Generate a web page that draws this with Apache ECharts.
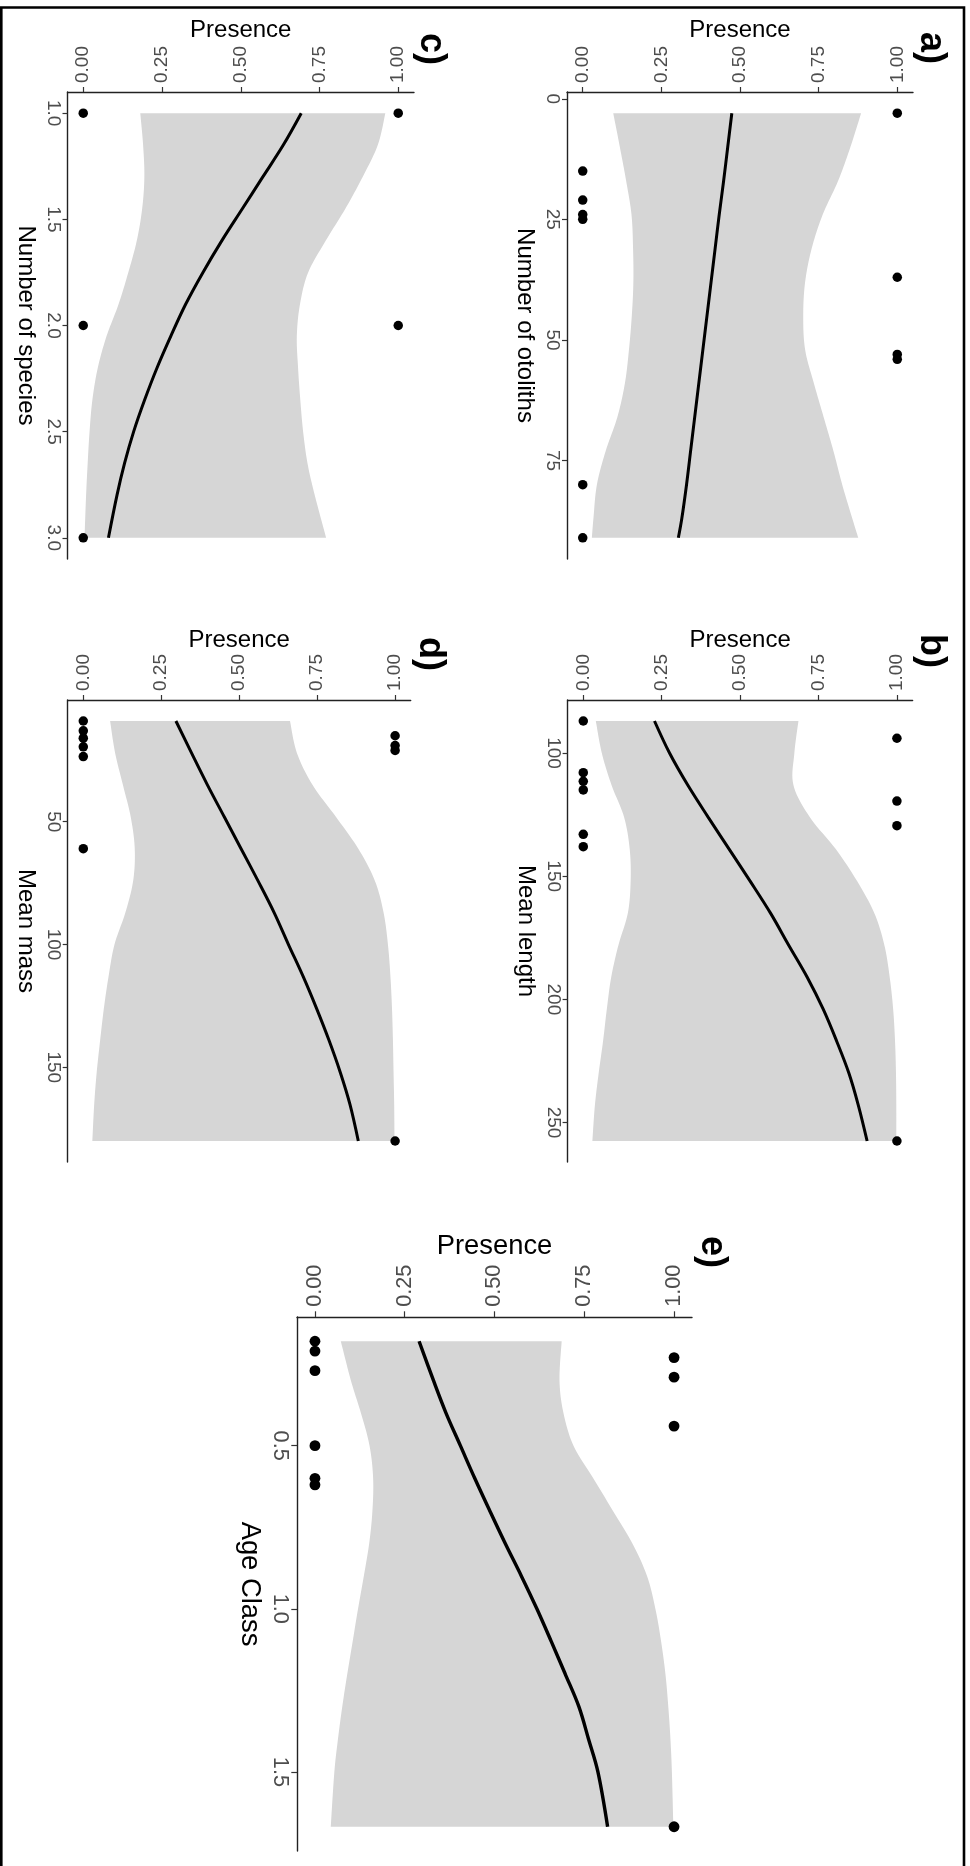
<!DOCTYPE html>
<html>
<head>
<meta charset="utf-8">
<title>Presence models</title>
<script src="https://cdn.jsdelivr.net/npm/echarts@6/dist/echarts.min.js"></script>
<style>
  html, body { margin: 0; padding: 0; background: #fff; }
  #chart { width: 970px; height: 1866px; }
</style>
</head>
<body>
<div id="chart"></div>
<script>
// presence axis (shared by all panels)
const presenceTicks = [0, 0.25, 0.5, 0.75, 1];

// a) Number of otoliths
const otolithX = [3, 15, 21, 24, 25, 37, 53, 54, 80, 91];
const otolithY = [1, 0, 0, 0, 0, 1, 1, 1, 0, 0];
const otolithTicks = [0, 25, 50, 75];
const otolithGrid = [3, 10, 17, 24, 31, 38, 45, 52, 59, 66, 73, 80, 87, 91];
const otolithFit = [0.474, 0.461, 0.448, 0.434, 0.421, 0.408, 0.395, 0.382, 0.369, 0.356, 0.343, 0.330, 0.315, 0.304];
const otolithLower = [0.097, 0.118, 0.138, 0.155, 0.160, 0.161, 0.156, 0.147, 0.134, 0.110, 0.073, 0.045, 0.034, 0.029];
const otolithUpper = [0.885, 0.851, 0.812, 0.763, 0.728, 0.707, 0.701, 0.707, 0.735, 0.766, 0.797, 0.825, 0.857, 0.876];

// b) Mean length
const lengthX = [87, 94, 108, 111.5, 115, 119.5, 129.5, 133, 138, 257.5];
const lengthY = [0, 1, 0, 0, 0, 1, 1, 0, 0, 1];
const lengthTicks = [100, 150, 200, 250];
const lengthGrid = [87, 100, 113, 126, 139, 152, 165, 178, 191, 204, 217, 230, 243, 257.5];
const lengthFit = [0.227, 0.275, 0.333, 0.398, 0.465, 0.532, 0.597, 0.655, 0.714, 0.765, 0.808, 0.847, 0.877, 0.905];
const lengthLower = [0.040, 0.059, 0.090, 0.130, 0.148, 0.151, 0.142, 0.112, 0.089, 0.075, 0.063, 0.049, 0.037, 0.029];
const lengthUpper = [0.686, 0.673, 0.670, 0.722, 0.805, 0.873, 0.928, 0.960, 0.977, 0.988, 0.994, 0.997, 0.998, 0.998];

// c) Number of species
const speciesX = [1, 1, 2, 2, 3];
const speciesY = [1, 0, 1, 0, 0];
const speciesTicks = [1, 1.5, 2, 2.5, 3];
const speciesGrid = [1.0, 1.15, 1.3, 1.45, 1.6, 1.75, 1.9, 2.05, 2.2, 2.35, 2.5, 2.65, 2.8, 3.0];
const speciesFit = [0.692, 0.635, 0.570, 0.505, 0.440, 0.380, 0.325, 0.278, 0.234, 0.195, 0.160, 0.131, 0.107, 0.080];
const speciesLower = [0.181, 0.190, 0.194, 0.187, 0.170, 0.143, 0.112, 0.074, 0.046, 0.029, 0.020, 0.014, 0.009, 0.004];
const speciesUpper = [0.959, 0.935, 0.887, 0.832, 0.770, 0.714, 0.688, 0.678, 0.682, 0.689, 0.698, 0.712, 0.735, 0.771];

// d) Mean mass
const massX = [9, 13, 16, 19.5, 23.5, 61, 15, 19, 21, 180];
const massY = [0, 0, 0, 0, 0, 0, 1, 1, 1, 1];
const massTicks = [50, 100, 150];
const massGrid = [9, 22, 35, 48, 61, 74, 87, 100, 113, 126, 139, 152, 165, 180];
const massFit = [0.297, 0.347, 0.398, 0.452, 0.506, 0.560, 0.612, 0.658, 0.705, 0.748, 0.788, 0.824, 0.855, 0.882];
const massLower = [0.086, 0.102, 0.127, 0.152, 0.165, 0.160, 0.135, 0.100, 0.081, 0.066, 0.054, 0.043, 0.035, 0.029];
const massUpper = [0.663, 0.685, 0.735, 0.810, 0.882, 0.935, 0.963, 0.977, 0.985, 0.990, 0.993, 0.995, 0.997, 0.998];

// e) Age Class
const ageX = [0.18, 0.21, 0.27, 0.50, 0.60, 0.62, 0.23, 0.29, 0.44, 1.668];
const ageY = [0, 0, 0, 0, 0, 0, 1, 1, 1, 1];
const ageTicks = [0.5, 1, 1.5];
const ageGrid = [0.18, 0.3, 0.4, 0.5, 0.6, 0.7, 0.8, 0.9, 1.0, 1.1, 1.2, 1.3, 1.4, 1.5, 1.668];
const ageFit = [0.290, 0.330, 0.365, 0.405, 0.445, 0.487, 0.530, 0.575, 0.618, 0.658, 0.697, 0.735, 0.762, 0.788, 0.815];
const ageLower = [0.072, 0.100, 0.128, 0.152, 0.162, 0.160, 0.151, 0.136, 0.120, 0.105, 0.090, 0.076, 0.064, 0.054, 0.044];
const ageUpper = [0.687, 0.681, 0.692, 0.720, 0.775, 0.830, 0.884, 0.925, 0.948, 0.964, 0.976, 0.984, 0.990, 0.994, 0.998];

const FONT = '"Liberation Sans", Arial, Helvetica, sans-serif';

// panel placement (figure is turned 90deg: predictor runs down, presence runs right)
const panels = [
  { tag: 'a)', title: 'Number of otoliths', x: otolithX, y: otolithY, ticks: otolithTicks, grid: otolithGrid,
    fit: otolithFit, lower: otolithLower, upper: otolithUpper, dec: 0,
    box: { left: 567, top: 92, width: 346, height: 467 }, tagAt: [931, 48], gap: 50, s: 1 },
  { tag: 'b)', title: 'Mean length', x: lengthX, y: lengthY, ticks: lengthTicks, grid: lengthGrid,
    fit: lengthFit, lower: lengthLower, upper: lengthUpper, dec: 0,
    box: { left: 567.6, top: 700, width: 345, height: 462 }, tagAt: [931, 651], gap: 48, s: 1 },
  { tag: 'c)', title: 'Number of species', x: speciesX, y: speciesY, ticks: speciesTicks, grid: speciesGrid,
    fit: speciesFit, lower: speciesLower, upper: speciesUpper, dec: 1,
    box: { left: 67.5, top: 92, width: 346.5, height: 467 }, tagAt: [431, 49], gap: 50, s: 1 },
  { tag: 'd)', title: 'Mean mass', x: massX, y: massY, ticks: massTicks, grid: massGrid,
    fit: massFit, lower: massLower, upper: massUpper, dec: 0,
    box: { left: 67.7, top: 700, width: 343, height: 462 }, tagAt: [430, 654], gap: 48, s: 1 },
  { tag: 'e)', title: 'Age Class', x: ageX, y: ageY, ticks: ageTicks, grid: ageGrid,
    fit: ageFit, lower: ageLower, upper: ageUpper, dec: 1,
    box: { left: 297, top: 1317, width: 395, height: 534 }, tagAt: [712, 1252], gap: 57, s: 1.14 }
];

function padded(vals) {
  const lo = Math.min(...vals), hi = Math.max(...vals), r = hi - lo;
  return [lo - 0.05 * r, hi + 0.05 * r];
}

// catmull-rom through already projected pixel points, so the band edges come out smooth
function spline(pts, n) {
  const out = [];
  for (let i = 0; i < pts.length - 1; i++) {
    const p0 = pts[Math.max(i - 1, 0)], p1 = pts[i], p2 = pts[i + 1], p3 = pts[Math.min(i + 2, pts.length - 1)];
    for (let k = 0; k < n; k++) {
      const t = k / n, t2 = t * t, t3 = t2 * t;
      out.push([0, 1].map(function (d) {
        return 0.5 * (2 * p1[d] + (p2[d] - p0[d]) * t +
          (2 * p0[d] - 5 * p1[d] + 4 * p2[d] - p3[d]) * t2 +
          (3 * p1[d] - p0[d] - 3 * p2[d] + p3[d]) * t3);
      }));
    }
  }
  out.push(pts[pts.length - 1]);
  return out;
}

function ribbon(p) {
  return function (params, api) {
    if (params.dataIndex !== 0) return null;
    const lo = p.grid.map(function (g, i) { return api.coord([p.lower[i], g]); });
    const hi = p.grid.map(function (g, i) { return api.coord([p.upper[i], g]); });
    const pts = spline(lo, 10).concat(spline(hi, 10).reverse());
    return { type: 'polygon', shape: { points: pts }, style: { fill: '#d6d6d6' } };
  };
}

const option = { animation: false, grid: [], xAxis: [], yAxis: [], series: [], graphic: [] };

panels.forEach(function (p, i) {
  const s = p.s;
  const ext = padded(p.x);
  option.grid.push(Object.assign({ containLabel: false, outerBoundsMode: 'none' }, p.box));
  option.xAxis.push({
    type: 'value', gridIndex: i, position: 'top', min: -0.05, max: 1.05,
    name: 'Presence', nameLocation: 'middle', nameGap: p.gap, nameMoveOverlap: false,
    nameTextStyle: { fontSize: 24 * s, color: '#000', fontFamily: FONT },
    axisLine: { show: true, onZero: false, lineStyle: { color: '#222', width: 1.4 } },
    axisTick: { show: true, length: 5 * s, customValues: presenceTicks, lineStyle: { color: '#333', width: 1.2 } },
    axisLabel: { customValues: presenceTicks, rotate: -90, margin: 9 * s, fontSize: 19 * s, color: '#4d4d4d',
      fontFamily: FONT, formatter: function (v) { return Number(v).toFixed(2); } },
    splitLine: { show: false }
  });
  option.yAxis.push({
    type: 'value', gridIndex: i, position: 'left', inverse: true, min: ext[0], max: ext[1],
    name: p.title, nameLocation: 'middle', nameRotate: -90, nameGap: 30 * s, nameMoveOverlap: false,
    nameTextStyle: { fontSize: 24 * s, color: '#000', fontFamily: FONT },
    axisLine: { show: true, onZero: false, lineStyle: { color: '#222', width: 1.4 } },
    axisTick: { show: true, length: 5 * s, customValues: p.ticks, lineStyle: { color: '#333', width: 1.2 } },
    axisLabel: { customValues: p.ticks, rotate: -90, margin: 5 * s, fontSize: 19 * s, color: '#4d4d4d',
      fontFamily: FONT, formatter: function (v) { return Number(v).toFixed(p.dec); } },
    splitLine: { show: false }
  });
  option.series.push({
    type: 'custom', xAxisIndex: i, yAxisIndex: i, z: 1, silent: true,
    renderItem: ribbon(p),
    encode: { x: [1, 2], y: 0 },
    data: p.grid.map(function (g, k) { return [g, p.lower[k], p.upper[k]]; })
  });
  option.series.push({
    type: 'line', xAxisIndex: i, yAxisIndex: i, z: 2, smooth: 0.35, showSymbol: false,
    lineStyle: { color: '#000', width: 3 * s },
    data: p.grid.map(function (g, k) { return [p.fit[k], g]; })
  });
  option.series.push({
    type: 'scatter', xAxisIndex: i, yAxisIndex: i, z: 3, symbolSize: 9.5 * s,
    itemStyle: { color: '#000', opacity: 1 },
    data: p.x.map(function (v, k) { return [p.y[k], v]; })
  });
  option.graphic.push({
    type: 'text', x: p.tagAt[0], y: p.tagAt[1], rotation: -Math.PI / 2,
    style: { text: p.tag, fontSize: 36, fontWeight: 'bold', fontFamily: FONT, fill: '#000',
      align: 'center', verticalAlign: 'middle', textAlign: 'center', textVerticalAlign: 'middle' }
  });
});

// outer frame (open at the bottom, as in the source figure)
option.graphic.push({
  type: 'polyline',
  shape: { points: [[1.3, 1866], [1.3, 7.5], [964, 7.5], [964, 1866]] },
  style: { stroke: '#000', lineWidth: 2.6, fill: null }
});

const chart = echarts.init(document.getElementById('chart'), null, { renderer: 'canvas' });
chart.setOption(option);
</script>
</body>
</html>
